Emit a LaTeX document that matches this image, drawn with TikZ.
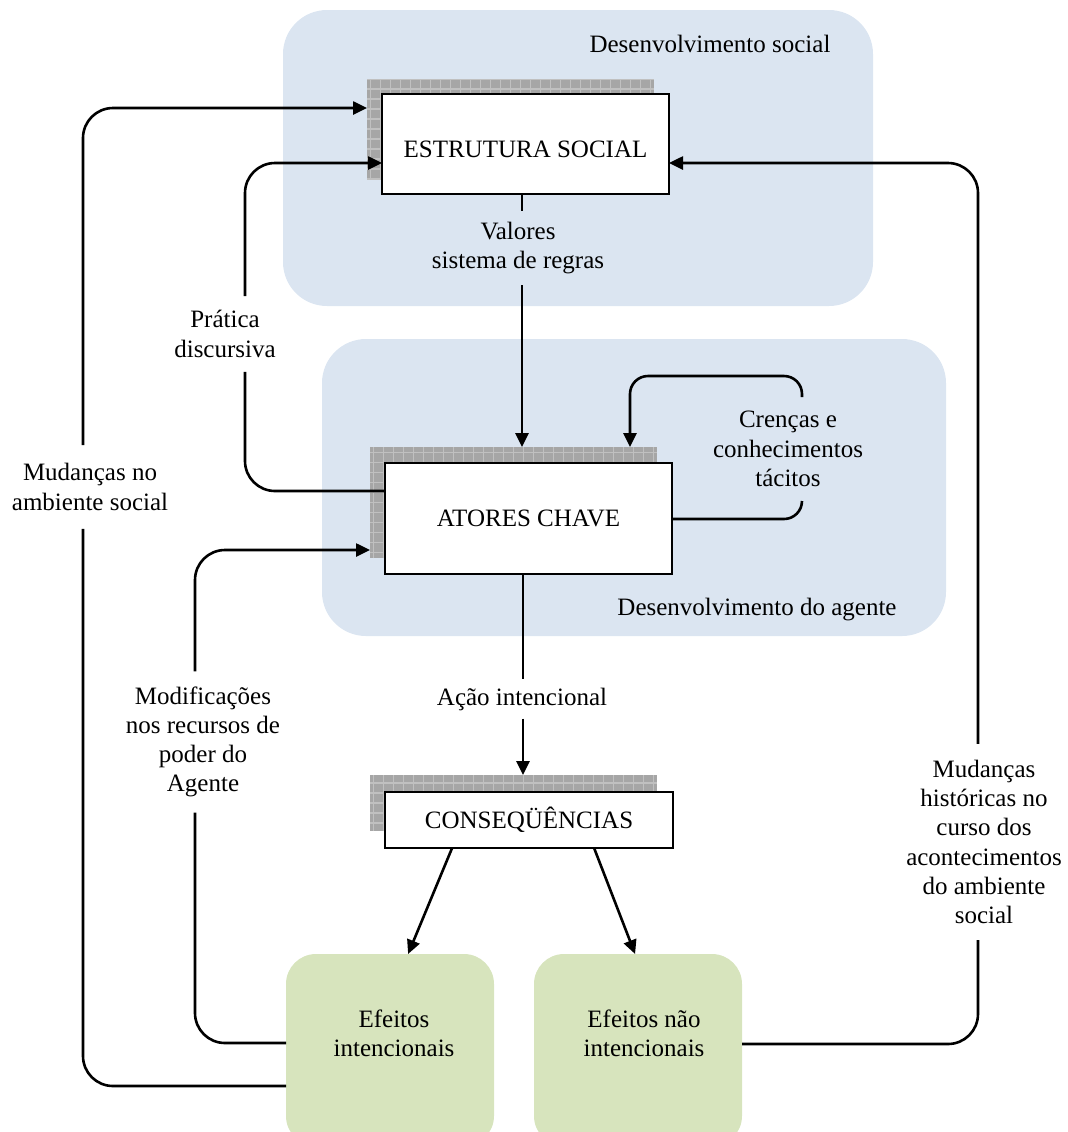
\documentclass[tikz,border=0pt]{standalone}
\usepackage{fontspec}
\setmainfont{Liberation Serif}
\usetikzlibrary{arrows.meta,calc}

\definecolor{socialblue}{RGB}{219,229,241}
\definecolor{effectgreen}{RGB}{215,228,189}
\definecolor{shadefill}{RGB}{166,166,166}
\definecolor{shadegrid}{RGB}{192,192,192}

\newcommand\figfont{\fontsize{12.5pt}{14.6pt}\selectfont}

\tikzset{
  region/.style={fill=socialblue, draw=none, rounded corners=22pt, inner sep=0pt, outer sep=0pt},
  procbox/.style={draw=black, line width=1pt, fill=white, inner sep=0pt, outer sep=0pt,
    align=center, font=\figfont},
  shadebox/.style={fill=shadefill, draw=none, inner sep=0pt, outer sep=0pt,
    path picture={\draw[shadegrid, line width=0.6pt, step=5pt]
      (path picture bounding box.south west) grid (path picture bounding box.north east);}},
  effectbox/.style={fill=effectgreen, draw=none, rounded corners=15pt, inner sep=0pt, outer sep=0pt},
  txt/.style={font=\figfont, align=center, inner xsep=2pt},
  link/.style={line width=1.3pt, rounded corners=15pt},
  arr/.style={link, -{Triangle[length=7pt,width=6.5pt]}},
}

\begin{document}
\begin{tikzpicture}[x=0.5pt, y=-0.5pt]
\useasboundingbox (0,0) rectangle (1068,1132);
\clip (0,0) rectangle (1068,1132);

% shaded background regions
\node[region, minimum width=295pt, minimum height=148pt] (socdev) at (578,158) {};
\node[region, minimum width=312pt, minimum height=148.5pt] (agdev) at (634,487.5) {};
\node[txt] (socLbl) at (710,44) {Desenvolvimento social};
\node[txt] (agLbl) at (757,610) {Desenvolvimento do agente};

% hatched shadows behind the process boxes
\node[shadebox, minimum width=143.5pt, minimum height=50pt] (estrSh) at (510.5,129) {};
\node[shadebox, minimum width=143.5pt, minimum height=55.5pt] (atorSh) at (513.5,502.5) {};
\node[shadebox, minimum width=143.5pt, minimum height=28pt] (consSh) at (513.5,803) {};

% process boxes
\node[procbox, minimum width=143.5pt, minimum height=50pt, text height=13pt, text depth=0pt]
  (estr) at (525.5,144) {ESTRUTURA SOCIAL};
\node[procbox, minimum width=143.5pt, minimum height=55.5pt] (ator) at (528.5,518.5) {ATORES CHAVE};
\node[procbox, minimum width=144pt, minimum height=28pt] (cons) at (529,820) {CONSEQÜÊNCIAS};

% effect boxes
\node[effectbox, minimum width=104pt, minimum height=96pt] (eff1) at (390,1050) {};
\node[effectbox, minimum width=104pt, minimum height=96pt] (eff2) at (638,1050) {};
\node[txt] (eff1Lbl) at (394,1033) {Efeitos\\intencionais};
\node[txt] (eff2Lbl) at (644,1033) {Efeitos não\\intencionais};

% connector labels
\node[txt, inner ysep=5.5pt] (lblVal) at (518,248) {Valores\\sistema de regras};
\node[txt, inner ysep=9pt] (lblMud) at (90,487) {Mudanças no\\ambiente social};
\node[txt, inner ysep=7pt] (lblPrat) at (225,334) {Prática\\discursiva};
\node[txt, inner ysep=7.5pt] (lblMod) at (203,742) {Modificações\\nos recursos de\\poder do\\Agente};
\node[txt, inner ysep=8pt] (lblHist) at (984,842) {Mudanças\\históricas no\\curso dos\\acontecimentos\\do ambiente\\social};
\node[txt, inner ysep=4pt] (lblAcao) at (522,699) {Ação intencional};
\node[txt, inner ysep=7pt] (lblCren) at (788,449) {Crenças e\\conhecimentos\\tácitos};

% lanes of the feedback loops
\coordinate (laneAt) at (83,108);
\coordinate (laneAb) at (83,1086);
\coordinate (laneBt) at (245,163);
\coordinate (laneBb) at (245,491);
\coordinate (laneCt) at (195,550);
\coordinate (laneCb) at (195,1043);
\coordinate (laneDt) at (978,163);
\coordinate (laneDb) at (978,1044);
\coordinate (laneE) at (522,0);
\coordinate (laneG) at (523,0);
\coordinate (loopL) at (630,376);
\coordinate (loopR) at (802,376);
\coordinate (loopB) at (802,519);

% changes in the social environment
\draw[link] (eff1.west |- laneAb) -- (laneAb) -- (lblMud.south -| laneAb);
\draw[arr] (lblMud.north -| laneAt) -- (laneAt) -- (estrSh.west |- laneAt);

% discursive practice
\draw[link] (ator.west |- laneBb) -- (laneBb) -- (lblPrat.south -| laneBb);
\draw[arr] (lblPrat.north -| laneBt) -- (laneBt) -- (estr.west |- laneBt);

% changes in the agent's power resources
\draw[link] (eff1.west |- laneCb) -- (laneCb) -- (lblMod.south -| laneCb);
\draw[arr] (lblMod.north -| laneCt) -- (laneCt) -- (atorSh.west |- laneCt);

% historical changes
\draw[link] (eff2.east |- laneDb) -- (laneDb) -- (lblHist.south -| laneDb);
\draw[arr] (lblHist.north -| laneDt) -- (laneDt) -- (estr.east |- laneDt);

% values and rules
\draw[link] (estr.south -| laneE) -- (lblVal.north -| laneE);
\draw[arr] (lblVal.south -| laneE) -- (atorSh.north -| laneE);

% tacit beliefs and knowledge
\draw[arr, rounded corners=9pt] (lblCren.north -| loopR) -- (loopR) -- (loopL) -- (atorSh.north -| loopL);
\draw[link, rounded corners=9pt] (ator.east |- loopB) -- (loopB) -- (lblCren.south -| loopB);

% intentional action
\draw[link] (ator.south -| laneG) -- (lblAcao.north -| laneG);
\draw[arr] (lblAcao.south -| laneG) -- (consSh.north -| laneG);

% consequences
\draw[arr] ($(cons.south west)!0.233!(cons.south east)$) -- ($(eff1.north west)!0.587!(eff1.north east)$);
\draw[arr] ($(cons.south west)!0.726!(cons.south east)$) -- ($(eff2.north west)!0.486!(eff2.north east)$);
\end{tikzpicture}
\end{document}
